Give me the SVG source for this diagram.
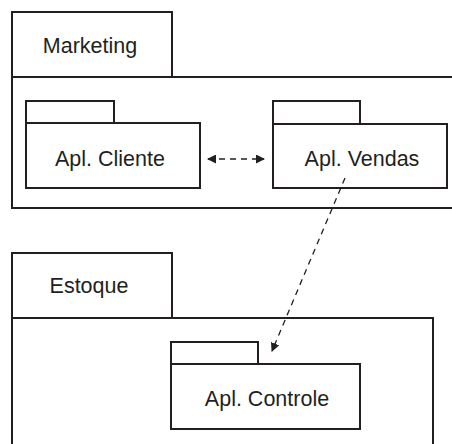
<svg xmlns="http://www.w3.org/2000/svg" width="452" height="444" viewBox="0 0 452 444">
<style>
.box{fill:#fff;stroke:#231f20;stroke-width:2}
.t{font-family:"Liberation Sans",Arial,sans-serif;font-size:21.5px;fill:#231f20;text-anchor:middle}
.dep{fill:none;stroke:#231f20;stroke-width:1.3;stroke-dasharray:6,5}
</style>
<defs>
<marker id="ah" markerWidth="9" markerHeight="9" refX="8" refY="4.5" orient="auto-start-reverse" markerUnits="userSpaceOnUse">
<path d="M0,0 L9,4.5 L0,9 Z" fill="#231f20"/>
</marker>
</defs>
<rect width="452" height="444" fill="#fff"/>
<g id="marketing">
<rect class="box" x="12" y="12" width="160" height="65"/>
<rect class="box" x="12" y="77" width="445" height="131"/>
<text class="t" x="90" y="53">Marketing</text>
</g>
<g id="apl-cliente">
<rect class="box" x="26" y="101" width="88" height="22"/>
<rect class="box" x="26" y="123" width="174" height="65"/>
<text class="t" x="110" y="166">Apl. Cliente</text>
</g>
<g id="apl-vendas">
<rect class="box" x="273" y="101" width="87" height="23"/>
<rect class="box" x="273" y="124" width="174" height="64"/>
<text class="t" x="362" y="166">Apl. Vendas</text>
</g>
<g id="estoque">
<rect class="box" x="12" y="253" width="160" height="65"/>
<rect class="box" x="12" y="318" width="421" height="140"/>
<text class="t" x="89" y="293">Estoque</text>
</g>
<g id="apl-controle">
<rect class="box" x="171" y="342" width="87" height="22"/>
<rect class="box" x="171" y="364" width="189" height="65"/>
<text class="t" x="267" y="406">Apl. Controle</text>
</g>
<g id="connectors">
<line class="dep" x1="208" y1="159" x2="264" y2="159" marker-start="url(#ah)" marker-end="url(#ah)"/>
<line class="dep" x1="345" y1="178" x2="272" y2="351" marker-end="url(#ah)"/>
</g>
</svg>
